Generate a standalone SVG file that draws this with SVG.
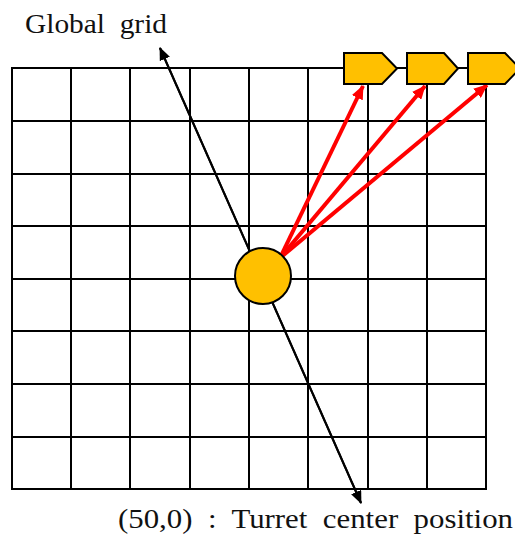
<svg xmlns="http://www.w3.org/2000/svg" width="515" height="536" viewBox="0 0 515 536">
<style>
.grid{stroke:#000;stroke-width:2;fill:none}
.lbl{font-family:"Liberation Serif","DejaVu Serif",serif;font-size:28px;fill:#111}
.tur{fill:#FFC000;stroke:#000;stroke-width:2}
.red{stroke:#FF0000;stroke-width:4;fill:none}
.blk{stroke:#000;stroke-width:2;fill:none}
</style>
<defs>
<marker id="ab" viewBox="0 0 13 11" refX="12" refY="5.5" markerWidth="13" markerHeight="11" markerUnits="userSpaceOnUse" orient="auto">
<path d="M0,0 L13,5.5 L0,11 z" fill="#000"/>
</marker>
<marker id="ar" viewBox="0 0 14 12" refX="13" refY="6" markerWidth="14" markerHeight="12" markerUnits="userSpaceOnUse" orient="auto">
<path d="M0,0 L14,6 L0,12 z" fill="#FF0000"/>
</marker>
</defs>
<rect width="515" height="536" fill="#fff"/>
<g id="grid" class="grid">
<rect x="12" y="68" width="474" height="421"/>
<path d="M71,68V489M130,68V489M190,68V489M249,68V489M308,68V489M368,68V489M427,68V489"/>
<path d="M12,121H486M12,174H486M12,226H486M12,279H486M12,331H486M12,384H486M12,437H486"/>
</g>
<g id="connectors">
<line class="blk" x1="361" y1="503" x2="160" y2="48" marker-end="url(#ab)"/>
<line class="blk" x1="160" y1="48" x2="361" y2="503" marker-end="url(#ab)"/>
<line class="red" x1="280" y1="258" x2="363" y2="86" marker-end="url(#ar)"/>
<line class="red" x1="280" y1="258" x2="425" y2="86" marker-end="url(#ar)"/>
<line class="red" x1="280" y1="258" x2="487" y2="85" marker-end="url(#ar)"/>
</g>
<g id="turret">
<circle class="tur" cx="263" cy="276" r="28"/>
</g>
<g id="target1"><polygon class="tur" points="344,53 382,53 397,68.5 382,84 344,84"/></g>
<g id="target2"><polygon class="tur" points="407,53 444,53 458,68.5 444,84 407,84"/></g>
<g id="target3"><polygon class="tur" points="468,53 505,53 520,68.5 505,84 468,84"/></g>
<g id="label-global"><text class="lbl" x="25" y="33" textLength="142" lengthAdjust="spacingAndGlyphs" xml:space="preserve">Global  grid</text></g>
<g id="label-turret"><text class="lbl" x="118" y="528" textLength="395" lengthAdjust="spacingAndGlyphs" xml:space="preserve">(50,0)  :  Turret  center  position</text></g>
</svg>
